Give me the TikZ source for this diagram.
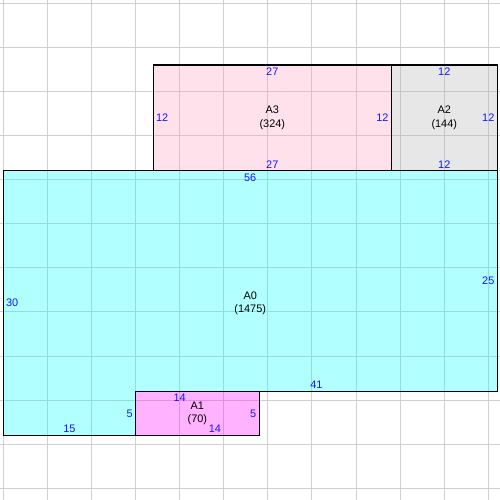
\documentclass[tikz,border=0pt]{standalone}
\usepackage{fontspec}
\setmainfont{Liberation Sans}
\definecolor{gridgray}{RGB}{208,208,208}
\definecolor{pinkA}{RGB}{255,158,192}
\definecolor{grayA}{RGB}{178,178,178}
\definecolor{cyanA}{RGB}{0,255,255}
\definecolor{magA}{RGB}{255,0,255}
\definecolor{lblblue}{RGB}{20,20,255}
\tikzset{
  gridline/.style={draw=gridgray,line width=0.8pt},
  border/.style={draw=black,line width=0.9pt},
  fillA0/.style={fill=cyanA,fill opacity=0.3},
  fillA1/.style={fill=magA,fill opacity=0.3},
  fillA2/.style={fill=grayA,fill opacity=0.3},
  fillA3/.style={fill=pinkA,fill opacity=0.3},
  lbl/.style={text=lblblue,font=\fontsize{8.8}{10.8}\selectfont,inner sep=2.1pt},
  nm/.style={align=center,font=\fontsize{8.8}{10.8}\selectfont,inner sep=0pt}
}
\begin{document}
\begin{tikzpicture}[x=0.25cm,y=-0.25cm]
\useasboundingbox (-0.374,-0.374) rectangle (56.32,56.32);
\fill[white] (-0.374,-0.374) rectangle (56.32,56.32);
\foreach \k in {0,5,...,55} {
  \draw[gridline] (\k,-0.374) -- (\k,56.32);
  \draw[gridline] (-0.374,\k) -- (56.32,\k);
}
% fills
\fill[fillA0] (0,19) -- (56,19) -- (56,44) -- (15,44) -- (15,49) -- (0,49) -- cycle;
\fill[fillA1] (15,44) rectangle (29,49);
\fill[fillA2] (44,7) rectangle (56,19);
\fill[fillA3] (17,7) rectangle (44,19);
% borders
\draw[border] (0,19) -- (56,19) -- (56,44) -- (15,44) -- (15,49) -- (0,49) -- cycle;
\draw[border] (15,44) rectangle (29,49);
\draw[border] (44,7) rectangle (56,19);
\draw[border] (17,7) rectangle (44,19);
% A3
\node[nm] (nA3) at (30.5,13) {A3\\(324)};
\node[lbl,anchor=north] (a3t) at (30.5,7) {27};
\node[lbl,anchor=south] (a3b) at (30.5,19) {27};
\node[lbl,anchor=west] (a3l) at (17,13) {12};
\node[lbl,anchor=east] (a3r) at (44,13) {12};
% A2
\node[nm] (nA2) at (50,13) {A2\\(144)};
\node[lbl,anchor=north] (a2t) at (50,7) {12};
\node[lbl,anchor=south] (a2b) at (50,19) {12};
\node[lbl,anchor=east] (a2r) at (56,13) {12};
% A0
\node[nm] (nA0) at (28,34) {A0\\(1475)};
\node[lbl,anchor=north] (a0t) at (28,19) {56};
\node[lbl,anchor=west] (a0l) at (0,34) {30};
\node[lbl,anchor=east] (a0r) at (56,31.5) {25};
\node[lbl,anchor=south] (a0b1) at (35.5,44) {41};
\node[lbl,anchor=south] (a0b2) at (7.5,49) {15};
\node[lbl,anchor=east] (a0s) at (15,46.5) {5};
% A1
\node[nm] (nA1) at (22,46.5) {A1\\(70)};
\node[lbl,anchor=north] (a1t) at (20,44) {14};
\node[lbl,anchor=south] (a1b) at (24,49) {14};
\node[lbl,anchor=east] (a1r) at (29,46.5) {5};
\end{tikzpicture}
\end{document}
